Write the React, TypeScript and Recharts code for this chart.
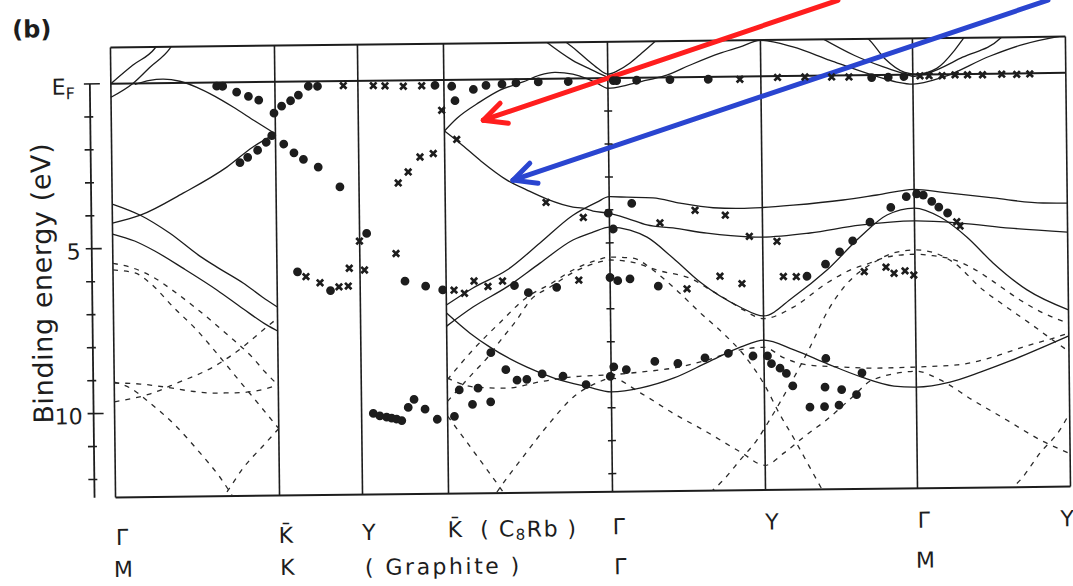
import React from 'react';
import { ComposedChart, Line, Scatter, XAxis, YAxis, ReferenceLine } from 'recharts';

type P = [number, number];

const INK = '#1d1d1d';
const FONT = '"DejaVu Sans", sans-serif';

// path along the zone (k in arbitrary units)
const K_POINTS = [0, 1.64, 2.47, 3.33, 4.97, 6.5, 8.02, 9.55];
const K_LABELS = ['Γ', 'K̄', 'Y', 'K̄', 'Γ', 'Y', 'Γ', 'Y'];
const K_LABELS_GRAPHITE = ['M', 'K', '', '', 'Γ', '', 'M', ''];
const E_TICKS = [0, 1, 2, 3, 4, 5, 6, 7, 8, 9, 10, 11, 12];
const E_TOP = -1.1;
const E_BOTTOM = 12.55;
const K_AXIS = -0.21;
const GAMMA_MARKS = [1, 2, 3, 4, 5, 6, 7, 8, 9, 10, 11, 12];

// graphite bands, Γ-K̄ panel (solid)
const GR_A: P[] = [[0, 0.0], [0.22, -0.55], [0.445, -1.06], [0.47, -1.16]];
const GR_B: P[] = [[0, 0.41], [0.22, 0.0], [0.39, -0.48], [0.595, -1.05], [0.62, -1.16]];
const GR_C: P[] = [[0.24, 0.03], [0.39, -0.09], [0.52, -0.12], [0.69, -0.05], [0.86, 0.14], [1.04, 0.42], [1.22, 0.75], [1.44, 1.19], [1.64, 1.58]];
const GR_D: P[] = [[0, 4.23], [0.28, 4.0], [0.71, 3.345], [1.15, 2.57], [1.41, 1.975], [1.64, 1.58]];
const GR_E: P[] = [[0, 3.65], [0.28, 4.0], [0.57, 4.55], [0.87, 5.26], [1.04, 5.6], [1.3, 6.09], [1.49, 6.52], [1.64, 6.83]];
const GR_F: P[] = [[0, 4.56], [0.22, 4.78], [0.42, 5.09], [0.7, 5.62], [1.04, 6.3], [1.3, 6.88], [1.53, 7.37], [1.64, 7.56]];

// graphite bands, Γ-K̄ panel (dashed)
const GD_1: P[] = [[0, 5.65], [0.22, 5.75], [0.37, 6.06], [0.6, 6.8], [0.83, 7.5], [1.06, 8.33], [1.26, 9.09], [1.45, 9.8], [1.64, 10.52]];
const GD_2: P[] = [[0, 5.45], [0.2, 5.6], [0.4, 5.88], [0.59, 6.28], [0.85, 6.9], [1.14, 7.66], [1.39, 8.37], [1.51, 8.8], [1.64, 9.2]];
const GD_3: P[] = [[0, 9.65], [0.36, 9.42], [0.63, 9.1], [0.99, 8.63], [1.29, 8.03], [1.46, 7.61], [1.64, 7.17]];
const GD_4: P[] = [[0, 9.08], [0.26, 9.12], [0.51, 9.22], [0.76, 9.35], [0.99, 9.42], [1.21, 9.42], [1.41, 9.37], [1.64, 9.2]];
const GD_5: P[] = [[0, 9.05], [0.16, 9.24], [0.355, 9.7], [0.6, 10.37], [0.85, 11.23], [1.05, 11.99], [1.2, 12.7]];
const GD_6: P[] = [[0.98, 12.95], [1.115, 12.42], [1.28, 11.7], [1.48, 11.04], [1.64, 10.52]];

// C8Rb bands (solid)
const CR_S1: P[] = [[3.33, 1.55], [3.454, 1.175], [3.689, 0.68], [3.89, 0.33], [4.121, 0.09], [4.29, -0.11], [4.44, -0.19], [4.62, -0.13], [4.76, 0.01], [4.86, 0.15], [4.97, 0.31], [5.16, 0.22], [5.36, 0.08], [5.56, -0.065], [5.79, -0.36], [6.09, -0.71], [6.29, -0.89], [6.5, -1.09], [6.825, -0.88], [7.194, -0.46], [7.621, 0.006], [7.86, 0.22], [8.02, 0.29], [8.32, 0.09], [8.79, -0.53], [9.13, -0.88], [9.55, -1.14]];
const CR_ALPHA: P[] = [[3.33, 1.55], [3.484, 1.925], [3.683, 2.45], [3.95, 3.06], [4.149, 3.37], [4.348, 3.65], [4.607, 3.9], [4.707, 3.94], [4.807, 4.03], [4.96, 4.1], [5.146, 4.26], [5.345, 4.47], [5.605, 4.57], [5.944, 4.74], [6.374, 4.87], [6.5, 4.88], [6.974, 4.77], [7.475, 4.55], [8.02, 4.44], [8.475, 4.52], [8.975, 4.69], [9.55, 4.83]];
const CR_BETA: P[] = [[3.33, 6.83], [3.598, 6.32], [3.94, 5.79], [4.273, 4.98], [4.606, 4.15], [4.848, 3.76], [4.97, 3.6], [5.148, 3.62], [5.408, 3.65], [5.678, 3.82], [6.008, 3.97], [6.278, 4.0], [6.5, 3.98], [6.808, 3.92], [7.308, 3.78], [7.648, 3.64], [8.02, 3.48], [8.308, 3.58], [8.808, 3.77], [9.308, 3.94], [9.55, 3.95]];
const CR_GAMMA: P[] = [[3.33, 7.47], [3.596, 6.9], [3.938, 6.3], [4.271, 5.59], [4.603, 4.9], [4.804, 4.67], [4.97, 4.52], [5.174, 4.62], [5.344, 4.84], [5.601, 5.48], [5.869, 6.22], [6.266, 6.99], [6.5, 7.27], [6.797, 6.71], [7.14, 5.9], [7.474, 4.91], [7.746, 4.25], [8.02, 4.05], [8.276, 4.33], [8.544, 4.95], [8.801, 5.74], [9.138, 6.57], [9.55, 7.19]];
const CR_DELTA: P[] = [[3.33, 7.07], [3.563, 7.69], [3.761, 8.12], [4.129, 8.74], [4.398, 9.08], [4.737, 9.36], [4.97, 9.52], [5.267, 9.41], [5.598, 9.12], [5.94, 8.65], [6.271, 8.2], [6.5, 8.0], [6.801, 8.31], [7.139, 8.75], [7.468, 9.15], [7.797, 9.44], [8.02, 9.48], [8.357, 9.34], [8.668, 9.04], [8.96, 8.72], [9.291, 8.31], [9.55, 7.98]];
const CR_T1: P[] = [[4.34, -1.16], [4.62, -0.55], [4.8, -0.27], [4.97, -0.02]];
const CR_T2: P[] = [[4.53, -1.16], [4.66, -0.85], [4.76, -0.58], [4.87, -0.3], [4.97, -0.12], [5.07, -0.22], [5.19, -0.44], [5.31, -0.74], [5.44, -1.08], [5.47, -1.16]];
const CR_T3: P[] = [[7.1, -1.16], [7.44, -0.6], [7.72, -0.25], [7.96, 0.0], [8.02, 0.06]];
const CR_T4: P[] = [[7.55, -1.16], [7.57, -1.12], [7.74, -0.5], [7.94, -0.07], [8.06, -0.01], [8.26, -0.18], [8.44, -0.72], [8.53, -1.08], [8.55, -1.16]];
const CR_T5: P[] = [[8.02, 0.06], [8.17, -0.035], [8.52, -0.51], [8.9, -1.07], [8.93, -1.16]];

// C8Rb bands (dashed)
const CD_1: P[] = [[3.33, 9.1], [3.59, 8.2], [3.86, 7.39], [4.14, 6.61], [4.37, 6.23], [4.6, 5.81], [4.84, 5.52], [4.97, 5.43], [5.2, 5.47], [5.4, 5.84], [5.6, 6.36], [5.87, 7.16], [6.09, 7.77], [6.3, 8.45], [6.5, 9.35], [6.65, 10.25], [6.8, 11.05], [6.95, 11.9], [7.1, 12.75]];
const CD_2: P[] = [[3.33, 9.75], [3.59, 8.9], [3.74, 8.42], [3.87, 7.91], [4.03, 7.31], [4.17, 6.71], [4.37, 6.32], [4.61, 5.87], [4.86, 5.58], [4.97, 5.52], [5.2, 5.6], [5.45, 5.85], [5.81, 6.16], [5.97, 6.46], [6.14, 6.77], [6.3, 7.08], [6.5, 7.35], [6.8, 7.01], [7.14, 6.29], [7.37, 5.91], [7.57, 5.7], [7.7, 5.56], [7.87, 5.47], [8.02, 5.45], [8.2, 5.5], [8.4, 5.62], [8.6, 5.9], [8.8, 6.3], [9.07, 6.88], [9.3, 7.28], [9.55, 7.6]];
const CD_3: P[] = [[5.95, 12.6], [6.08, 12.23], [6.25, 11.63], [6.42, 11.03], [6.55, 10.42], [6.75, 9.4], [6.95, 8.3], [7.15, 7.1], [7.3, 6.45], [7.45, 6.0], [7.6, 5.7], [7.8, 5.41], [8.02, 5.32], [8.2, 5.4], [8.4, 5.7], [8.7, 6.56], [8.93, 7.08], [9.16, 7.58], [9.43, 8.19], [9.55, 8.45]];
const CD_4: P[] = [[3.33, 9.04], [3.59, 9.32], [3.92, 9.37], [4.26, 9.19], [4.59, 9.05], [4.97, 9.0], [5.26, 8.93], [5.59, 8.82], [5.93, 8.59], [6.26, 8.29], [6.5, 8.22], [6.7, 8.55], [6.93, 8.77], [7.26, 8.84], [7.59, 8.89], [8.03, 8.87], [8.43, 8.82], [8.76, 8.62], [9.09, 8.3], [9.43, 8.01], [9.55, 7.89]];
const CD_5: P[] = [[3.33, 10.2], [3.52, 11.0], [3.65, 11.55], [3.78, 12.1], [3.95, 12.85]];
const CD_6: P[] = [[3.75, 12.8], [3.845, 12.39], [4.08, 11.46], [4.35, 10.44], [4.59, 9.66], [4.83, 9.24], [4.97, 9.1], [5.26, 9.56], [5.58, 10.18], [5.92, 10.77], [6.25, 11.38], [6.5, 11.8], [6.69, 11.43], [6.89, 10.95], [7.12, 10.44], [7.38, 9.76], [7.58, 9.25], [8.02, 9.0], [8.26, 9.27], [8.58, 9.89], [8.92, 10.51], [9.25, 11.12], [9.55, 11.55]];
const CD_7: P[] = [[8.84, 12.84], [9.05, 12.33], [9.25, 11.52], [9.45, 10.83], [9.55, 10.32]];

// measured points: graphite
const GRAPHITE_DOTS: P[] = [
  [1.058, 0.11], [1.118, 0.116], [1.257, 0.3], [1.374, 0.43], [1.477, 0.55], [1.628, 0.95], [1.705, 0.74], [1.795, 0.58], [1.874, 0.41], [1.974, 0.145], [2.066, 0.15],
  [1.282, 2.44], [1.36, 2.28], [1.46, 2.07], [1.547, 1.83], [1.603, 1.63], [1.722, 1.89], [1.823, 2.16], [1.917, 2.36], [2.064, 2.6], [2.279, 3.21], [2.541, 4.63],
  [1.845, 5.77], [2.173, 6.35], [2.919, 6.09], [3.125, 6.25], [3.295, 6.37], [3.241, 0.16],
  [2.587, 10.09], [2.652, 10.17], [2.72, 10.21], [2.77, 10.24], [2.82, 10.27], [2.871, 10.32], [2.937, 9.92], [2.996, 9.68], [3.105, 9.98], [3.226, 10.29],
];
const GRAPHITE_CROSSES: P[] = [
  [2.324, 0.14], [2.624, 0.15], [2.741, 0.16], [2.924, 0.18], [3.108, 0.17], [3.305, 0.92], [3.083, 2.33], [3.216, 2.23], [2.963, 2.78], [2.862, 3.11],
  [2.832, 5.25], [2.468, 4.86], [2.363, 5.68], [2.515, 5.74], [1.929, 5.92], [2.069, 6.11], [2.258, 6.24], [2.351, 6.22],
];

// measured points: C8Rb
const C8RB_DOTS: P[] = [
  [3.408, 0.195], [3.624, 0.3], [3.751, 0.18], [3.911, 0.15], [4.051, 0.117], [4.274, 0.094], [4.574, 0.092], [5.024, 0.078], [5.058, 0.08], [5.258, 0.077], [5.591, 0.067], [5.974, 0.071], [3.439, 0.635], [7.608, 0.076], [7.774, 0.072], [7.931, 0.056],
  [5.195, 3.81], [4.959, 4.1], [5.007, 4.58], [4.969, 6.05], [5.046, 6.15], [5.169, 6.1], [5.451, 6.33], [4.013, 6.26], [4.151, 6.48], [4.435, 6.33],
  [3.769, 8.29], [3.917, 8.81], [4.028, 9.13], [4.126, 9.11], [4.28, 8.95], [4.488, 9.03], [4.718, 9.29], [4.997, 8.76], [5.122, 8.85], [4.961, 9.05], [5.408, 8.61], [5.638, 8.68], [5.91, 8.52], [6.144, 8.39], [6.39, 8.48], [6.535, 8.48],
  [3.449, 9.41], [3.637, 9.36], [3.58, 9.85], [3.762, 9.78], [3.398, 10.21],
  [6.574, 8.72], [6.659, 8.86], [6.722, 9.02], [6.785, 9.4], [7.118, 8.58], [7.478, 9.03], [7.107, 9.45], [7.273, 9.53], [7.421, 9.69], [6.954, 10.05], [7.1, 10.04], [7.245, 10.0],
  [7.941, 3.7], [8.045, 3.62], [8.111, 3.66], [8.195, 3.85], [8.265, 4.03], [8.352, 4.21], [7.785, 4.02], [7.575, 4.46], [7.4, 5.02], [7.268, 5.35], [7.126, 5.72], [6.939, 6.08],
];
const C8RB_CROSSES: P[] = [
  [6.29, 0.082], [6.667, 0.04], [6.941, 0.035], [7.208, 0.044], [7.381, 0.05], [8.092, 0.04], [8.182, 0.04], [8.312, 0.045], [8.442, 0.02], [8.567, 0.024], [8.717, 0.03], [8.909, 0.02], [9.059, 0.03], [9.19, 0.02], [3.452, 1.81],
  [4.338, 3.75], [4.709, 4.22], [5.475, 4.41], [5.827, 4.04], [6.129, 4.2], [6.367, 4.85], [6.643, 5.01], [8.443, 4.48], [8.475, 4.61],
  [3.408, 6.38], [3.512, 6.48], [3.609, 6.11], [3.748, 6.28], [3.894, 6.12], [4.657, 6.12], [5.738, 6.42], [6.069, 6.05], [6.288, 6.28], [6.703, 6.08], [6.832, 6.09], [7.512, 5.96], [7.73, 5.83], [7.81, 6.02], [7.92, 5.95], [8.007, 6.08],
];

// arrows drawn over the figure: [tail, tip, barb, barb]
const RED_ARROW: P[] = [[7.28, -2.28], [3.72, 1.236], [3.89, 0.727], [3.97, 1.335]];
const BLUE_ARROW: P[] = [[9.38, -2.21], [4.01, 3.064], [4.18, 2.555], [4.26, 3.164]];

const SOLID_BANDS = [GR_A, GR_B, GR_C, GR_D, GR_E, GR_F, CR_S1, CR_ALPHA, CR_BETA, CR_GAMMA, CR_DELTA, CR_T1, CR_T2, CR_T3, CR_T4, CR_T5];
const DASHED_BANDS = [GD_1, GD_2, GD_3, GD_4, GD_5, GD_6, CD_1, CD_2, CD_3, CD_4, CD_5, CD_6, CD_7];

const rows = (a: P[]) => a.map(([k, E]) => ({ k, E }));

const Dot = (p: any) => <circle cx={p.cx} cy={p.cy} r={4.4} fill={INK} />;
const Cross = (p: any) => (
  <path
    d={`M${p.cx - 3.2},${p.cy - 3.2}L${p.cx + 3.2},${p.cy + 3.2}M${p.cx + 3.2},${p.cy - 3.2}L${p.cx - 3.2},${p.cy + 3.2}`}
    stroke={INK}
    strokeWidth={2.7}
  />
);
const Notch = (p: any) => <line x1={p.cx - 4} x2={p.cx + 4} y1={p.cy} y2={p.cy} stroke={INK} strokeWidth={1.5} />;

// the scan sits a little lower on its left side
const ROW1_DROP = [8, 8, 6, 4, 3, 0, 0, 0];
const ROW2_DROP = [0, 0, 1, 0, 3, 0, 0, 0];

function PathTick(props: any) {
  const { x, y, payload } = props;
  const i = K_POINTS.indexOf(payload.value);
  const font = { fontFamily: FONT, fontSize: 22, fill: INK };
  const last = i === K_POINTS.length - 1;
  return (
    <g>
      <text
        x={last ? x + 3 : x + 6}
        y={y + 32 + ROW1_DROP[i]}
        textAnchor={last ? 'end' : 'middle'}
        dominantBaseline="central"
        {...font}
      >
        {K_LABELS[i]}
      </text>
      {K_LABELS_GRAPHITE[i] ? (
        <text x={x + 7} y={y + 72 + ROW2_DROP[i]} textAnchor="middle" dominantBaseline="central" {...font}>
          {K_LABELS_GRAPHITE[i]}
        </text>
      ) : null}
      {i === 3 ? (
        <text x={x + 80} y={y + 32 + ROW1_DROP[i]} textAnchor="middle" dominantBaseline="central" letterSpacing={1.5} {...font}>
          ( C<tspan fontSize={15} dy={6}>8</tspan>
          <tspan dy={-6}>Rb )</tspan>
        </text>
      ) : null}
      {i === 2 ? (
        <text x={x + 80} y={y + 72 + ROW2_DROP[i]} textAnchor="middle" dominantBaseline="central" letterSpacing={2.5} {...font}>
          ( Graphite )
        </text>
      ) : null}
    </g>
  );
}

function EnergyTick(props: any) {
  const { x, y, payload } = props;
  const v = payload.value as number;
  const major = v % 5 === 0;
  const font = { fontFamily: FONT, fontSize: 22, fill: INK };
  return (
    <g>
      <line x1={x - 6} x2={x + (major ? 10 : 3)} y1={y} y2={y} stroke={INK} strokeWidth={1.6} />
      {v === 0 ? (
        <text x={x - 15} y={y + 3} textAnchor="end" dominantBaseline="central" {...font}>
          E<tspan fontSize={16} dy={6}>F</tspan>
        </text>
      ) : null}
      {v === 5 || v === 10 ? (
        <text x={x - 11} y={y + 3} textAnchor="end" dominantBaseline="central" {...font}>
          {v}
        </text>
      ) : null}
    </g>
  );
}

const seg = (a: P, b: P) => [{ x: a[0], y: a[1] }, { x: b[0], y: b[1] }];

export default function App() {
  const arrows = [
    { pts: RED_ARROW, color: '#ff1e1e' },
    { pts: BLUE_ARROW, color: '#2a45d0' },
  ];
  return (
    <div style={{ position: 'absolute', left: 0, top: 0, width: 1073, height: 586, background: '#fff', overflow: 'hidden' }}>
      <div
        style={{
          position: 'absolute',
          left: 0,
          top: 0,
          width: 1073,
          height: 586,
          transform: 'rotate(-0.65deg)',
          transformOrigin: '590px 270px',
        }}
      >
        <div style={{ position: 'absolute', left: 15, top: 11, font: `bold 24px ${FONT}`, color: INK, lineHeight: 1 }}>(b)</div>
        <ComposedChart width={1073} height={586} margin={{ top: 42, right: 5, bottom: 0, left: 0 }}>
          <XAxis
            dataKey="k"
            type="number"
            domain={[K_AXIS, K_POINTS[K_POINTS.length - 1]]}
            allowDataOverflow
            ticks={K_POINTS}
            interval={0}
            height={94}
            axisLine={false}
            tickLine={false}
            tickSize={0}
            tickMargin={0}
            tick={<PathTick />}
          />
          <YAxis
            dataKey="E"
            type="number"
            domain={[E_TOP, E_BOTTOM]}
            reversed
            allowDataOverflow
            ticks={E_TICKS}
            interval={0}
            width={92}
            axisLine={false}
            tickLine={false}
            tickSize={0}
            tickMargin={0}
            tick={<EnergyTick />}
            label={{
              content: (lp: any) => {
                const vb = lp.viewBox || { x: 0, y: 42 };
                const cx = vb.x + 42;
                const cy = vb.y + 235;
                return (
                  <text
                    x={cx}
                    y={cy}
                    transform={`rotate(-90 ${cx} ${cy})`}
                    textAnchor="middle"
                    dominantBaseline="central"
                    fontFamily={FONT}
                    fontSize={27}
                    letterSpacing={0.6}
                    fill={INK}
                  >
                    Binding energy (eV)
                  </text>
                );
              },
            }}
          />

          {/* frame, E_F and symmetry lines */}
          <ReferenceLine segment={seg([K_AXIS, 0], [K_AXIS, E_BOTTOM])} stroke={INK} strokeWidth={1.8} ifOverflow="visible" />
          <ReferenceLine segment={seg([0, E_TOP], [9.55, E_TOP])} stroke={INK} strokeWidth={2} ifOverflow="visible" />
          <ReferenceLine segment={seg([0, E_BOTTOM], [9.55, E_BOTTOM])} stroke={INK} strokeWidth={2} ifOverflow="visible" />
          <ReferenceLine segment={seg([0, 0], [9.55, 0])} stroke={INK} strokeWidth={2} ifOverflow="visible" />
          {K_POINTS.map((k) => (
            <ReferenceLine key={`v${k}`} x={k} stroke={INK} strokeWidth={1.6} ifOverflow="visible" />
          ))}

          {DASHED_BANDS.map((b, i) => (
            <Line
              key={`d${i}`}
              data={rows(b)}
              dataKey="E"
              type="monotone"
              stroke="#2a2a2a"
              strokeWidth={1.3}
              strokeDasharray="5 6"
              dot={false}
              activeDot={false}
              isAnimationActive={false}
            />
          ))}
          {SOLID_BANDS.map((b, i) => (
            <Line
              key={`s${i}`}
              data={rows(b)}
              dataKey="E"
              type="monotone"
              stroke={INK}
              strokeWidth={1.3}
              dot={false}
              activeDot={false}
              isAnimationActive={false}
            />
          ))}

          <Scatter data={GAMMA_MARKS.map((E) => ({ k: K_POINTS[4], E }))} dataKey="E" shape={Notch} isAnimationActive={false} />
          <Scatter data={rows(GRAPHITE_DOTS)} dataKey="E" shape={Dot} isAnimationActive={false} />
          <Scatter data={rows(C8RB_DOTS)} dataKey="E" shape={Dot} isAnimationActive={false} />
          <Scatter data={rows(GRAPHITE_CROSSES)} dataKey="E" shape={Cross} isAnimationActive={false} />
          <Scatter data={rows(C8RB_CROSSES)} dataKey="E" shape={Cross} isAnimationActive={false} />

          {arrows.map((a) =>
            [1, 2, 3].map((j) => (
              <ReferenceLine
                key={`${a.color}${j}`}
                segment={seg(j === 1 ? a.pts[0] : a.pts[1], j === 1 ? a.pts[1] : a.pts[j])}
                stroke={a.color}
                strokeWidth={5}
                strokeLinecap="round"
                ifOverflow="visible"
              />
            )),
          )}
        </ComposedChart>
      </div>
    </div>
  );
}
